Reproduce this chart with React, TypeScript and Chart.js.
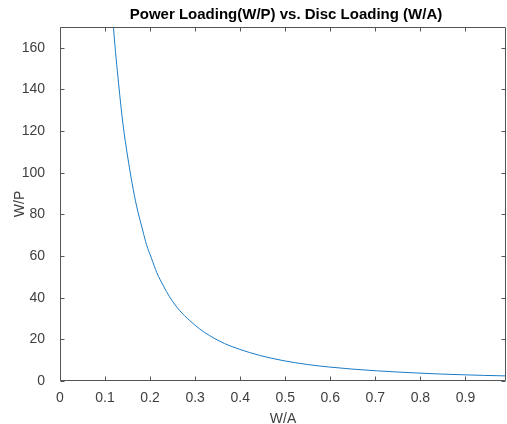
import React, { useEffect, useRef } from "react";
import { Chart, registerables } from "chart.js";

Chart.register(...registerables);

// Data
const discLoading = [0.112, 0.119, 0.130, 0.140, 0.150, 0.160, 0.170, 0.184, 0.192, 0.203, 0.215, 0.230, 0.243, 0.265, 0.288, 0.310, 0.332, 0.365, 0.399, 0.443, 0.495, 0.550, 0.598, 0.650, 0.702, 0.750, 0.791, 0.850, 0.894, 0.940, 0.990];
const powerLoading = [192, 169, 143, 123, 108, 95, 84, 72, 65.5, 59, 52, 45.5, 40.5, 34, 29, 25, 21.8, 18, 15.2, 12.3, 9.8, 7.9, 6.7, 5.7, 4.9, 4.3, 3.85, 3.3, 3.0, 2.7, 2.45];

const xTicks = [0, 0.1, 0.2, 0.3, 0.4, 0.5, 0.6, 0.7, 0.8, 0.9];
const yTicks = [0, 20, 40, 60, 80, 100, 120, 140, 160];
const xMin = 0;
const xMax = 0.99;
const yMin = 0;
const yMax = 170;

const titleText = "Power Loading(W/P) vs. Disc Loading (W/A)";
const xLabel = "W/A";
const yLabel = "W/P";

const FONT = "'Liberation Sans', Arial, Helvetica, sans-serif";

const matlabAxes = {
  id: "matlabAxes",
  afterDraw(chart: any) {
    const { ctx, chartArea, scales } = chart;
    const { left, right, top, bottom } = chartArea;
    const xs = scales.x;
    const ys = scales.y;
    ctx.save();
    ctx.strokeStyle = "#555555";
    ctx.lineWidth = 1;
    const L = Math.round(left) + 0.5;
    const R = Math.round(right) - 0.5;
    const T = Math.round(top) + 0.5;
    const B = Math.round(bottom) - 0.5;
    ctx.beginPath();
    ctx.moveTo(L, T);
    ctx.lineTo(R, T);
    ctx.lineTo(R, B);
    ctx.lineTo(L, B);
    ctx.closePath();
    ctx.stroke();
    const tl = 4;
    ctx.beginPath();
    for (const v of xTicks) {
      const px = Math.round(xs.getPixelForValue(v)) + 0.5;
      ctx.moveTo(px, B);
      ctx.lineTo(px, B - tl);
      ctx.moveTo(px, T);
      ctx.lineTo(px, T + tl);
    }
    for (const v of yTicks) {
      const py = Math.round(ys.getPixelForValue(v)) + 0.5;
      ctx.moveTo(L, py);
      ctx.lineTo(L + tl, py);
      ctx.moveTo(R, py);
      ctx.lineTo(R - tl, py);
    }
    ctx.stroke();
    ctx.fillStyle = "#000";
    ctx.font = `bold 15px ${FONT}`;
    ctx.textAlign = "center";
    ctx.textBaseline = "middle";
    ctx.fillText(titleText, (left + right) / 2 + 3, 15);
    ctx.restore();
  },
};

export default function App() {
  const ref = useRef<HTMLCanvasElement | null>(null);
  useEffect(() => {
    if (!ref.current) return;
    const chart = new Chart(ref.current, {
      type: "line",
      data: {
        datasets: [
          {
            data: discLoading.map((x, i) => ({ x, y: powerLoading[i] })),
            borderColor: "#1a7cc6",
            borderWidth: 1,
            pointRadius: 0,
            fill: false,
            cubicInterpolationMode: "monotone",
          },
        ],
      },
      options: {
        responsive: false,
        animation: false,
        layout: { padding: { left: 0, right: 1, top: 27, bottom: 0 } },
        plugins: {
          legend: { display: false },
          tooltip: { enabled: false },
          title: { display: false },
        },
        scales: {
          x: {
            type: "linear",
            min: xMin,
            max: xMax,
            grid: { display: false },
            border: { display: false },
            afterBuildTicks: (s: any) => {
              s.ticks = xTicks.map((v) => ({ value: v }));
            },
            afterFit: (s: any) => {
              s.height = 43;
            },
            ticks: {
              color: "#404040",
              font: { family: FONT, size: 14 },
              padding: 1,
              maxRotation: 0,
              callback: (v: any) => String(Math.round(Number(v) * 10) / 10),
            },
            title: {
              display: true,
              text: xLabel,
              color: "#404040",
              font: { family: FONT, size: 14, lineHeight: 1 },
              padding: { top: 0, bottom: -2 },
            },
          },
          y: {
            type: "linear",
            min: yMin,
            max: yMax,
            grid: { display: false },
            border: { display: false },
            afterBuildTicks: (s: any) => {
              s.ticks = yTicks.map((v) => ({ value: v }));
            },
            afterFit: (s: any) => {
              s.width = 60;
            },
            ticks: {
              color: "#404040",
              font: { family: FONT, size: 14 },
              padding: 7,
            },
            title: {
              display: true,
              text: yLabel,
              color: "#404040",
              font: { family: FONT, size: 14, lineHeight: 1 },
              padding: { top: 13, bottom: 0 },
            },
          },
        },
      },
      plugins: [matlabAxes],
    } as any);
    return () => chart.destroy();
  }, []);
  return (
    <div style={{ position: "absolute", left: 0, top: 0, width: 507, height: 424, background: "#fff" }}>
      <canvas ref={ref} width={507} height={424} style={{ display: "block" }} />
    </div>
  );
}
